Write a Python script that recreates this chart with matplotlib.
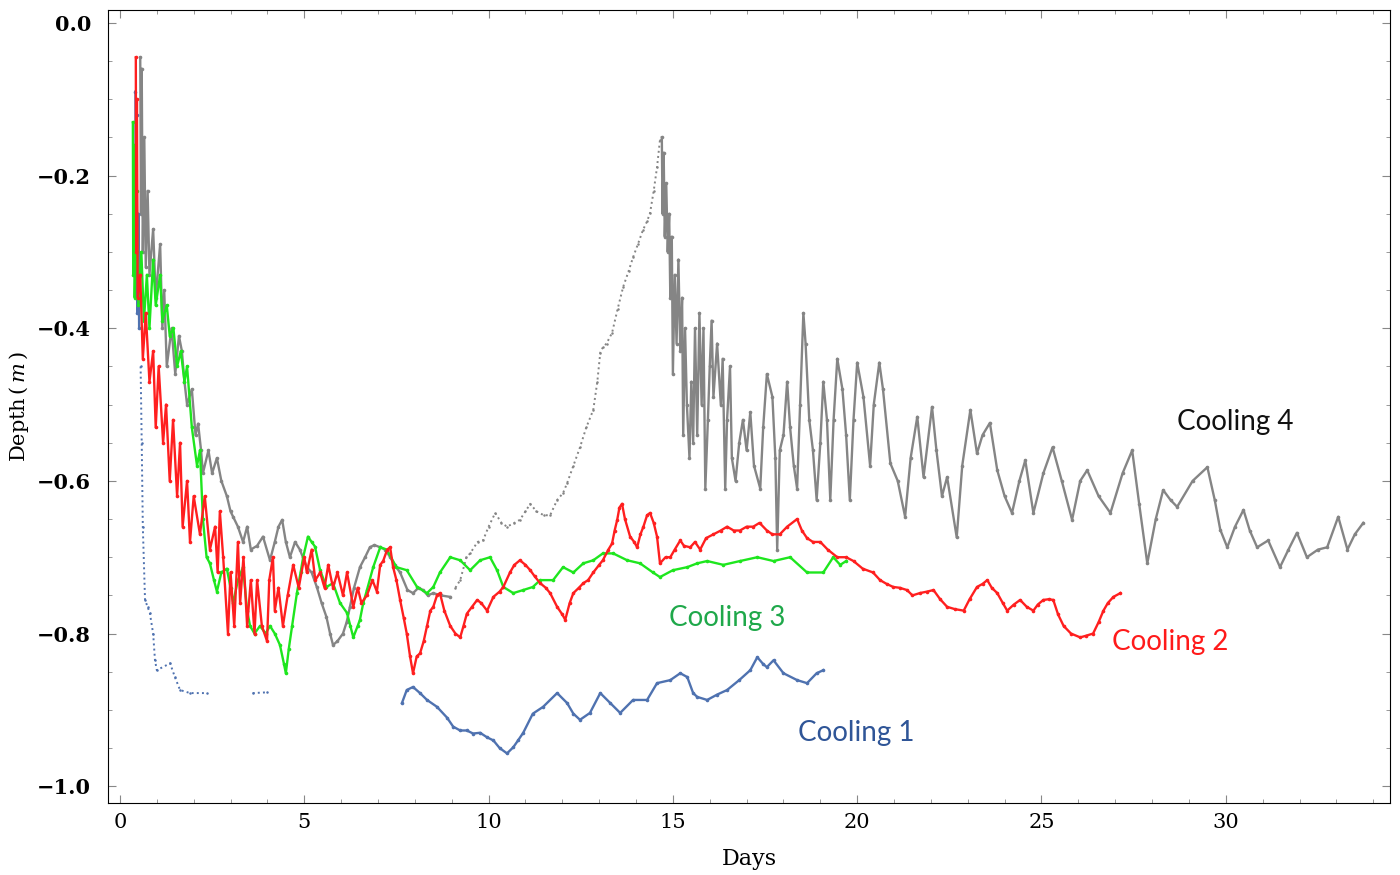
import numpy as np
import matplotlib
matplotlib.use("Agg")
import matplotlib.pyplot as plt
from matplotlib.ticker import MultipleLocator, FixedLocator

plt.rcParams['mathtext.fontset'] = 'dejavuserif'

# ---------------- data ----------------
c1_days = [0.42, 0.43, 0.45, 0.47, 0.50, 0.52, 0.56, 0.59, 0.62, 0.68, 0.75, 0.81, 0.90, 0.95, 1.00,
           1.36, 1.49, 1.63, 1.90, 2.35, np.nan, 3.60, 4.00, np.nan,
           7.65, 7.78, 7.95, 8.14, 8.33, 8.60, 8.87, 9.04, 9.23, 9.41, 9.58, 9.77, 9.96, 10.13, 10.30,
           10.50, 10.67, 10.80, 10.94, 11.20, 11.48, 11.86, 12.13, 12.30, 12.48, 12.75, 13.03, 13.30,
           13.57, 13.92, 14.30, 14.57, 14.93, 15.20, 15.39, 15.55, 15.66, 15.93, 16.20, 16.47, 16.80,
           17.10, 17.29, 17.45, 17.55, 17.73, 18.00, 18.37, 18.64, 18.90, 19.08]
c1_depth = [-0.09, -0.30, -0.12, -0.38, -0.25, -0.40, -0.45, -0.55, -0.66, -0.756, -0.765, -0.773, -0.80, -0.835, -0.848,
            -0.839, -0.857, -0.874, -0.878, -0.878, np.nan, -0.878, -0.877, np.nan,
            -0.891, -0.874, -0.870, -0.878, -0.887, -0.896, -0.910, -0.922, -0.927, -0.927, -0.931, -0.930, -0.936, -0.940, -0.950,
            -0.957, -0.949, -0.940, -0.930, -0.905, -0.896, -0.878, -0.891, -0.905, -0.913, -0.904, -0.878, -0.891,
            -0.904, -0.887, -0.887, -0.865, -0.861, -0.852, -0.857, -0.878, -0.883, -0.887, -0.880, -0.874, -0.861,
            -0.848, -0.831, -0.840, -0.844, -0.835, -0.852, -0.861, -0.865, -0.852, -0.848]

c2_days = [0.43, 0.44, 0.46, 0.48, 0.55, 0.62, 0.70, 0.80, 0.90, 0.97, 1.05, 1.17, 1.25, 1.35, 1.44, 1.55,
           1.63, 1.70, 1.82, 1.90, 2.00, 2.17, 2.30, 2.44, 2.58, 2.65, 2.71, 2.80, 2.93, 3.00, 3.10, 3.20,
           3.26, 3.35, 3.45, 3.55, 3.65, 3.72, 3.85, 3.99, 4.05, 4.15, 4.20, 4.30, 4.42, 4.55, 4.70, 4.85,
           5.00, 5.07, 5.20, 5.30, 5.43, 5.55, 5.65, 5.78, 5.90, 6.05, 6.16, 6.33, 6.45, 6.55, 6.70, 6.85,
           6.97, 7.06, 7.14, 7.25, 7.33, 7.41, 7.50, 7.60, 7.70, 7.78, 7.87, 7.95, 8.05, 8.14, 8.24, 8.33,
           8.42, 8.50, 8.60, 8.68, 8.80, 8.96, 9.10, 9.23, 9.32, 9.41, 9.55, 9.69, 9.80, 9.96, 10.13, 10.30,
           10.40, 10.58, 10.70, 10.85, 11.00, 11.13, 11.25, 11.40, 11.55, 11.67, 11.86, 12.00, 12.08, 12.20,
           12.30, 12.45, 12.57, 12.70, 12.84, 13.00, 13.10, 13.25, 13.35, 13.42, 13.49, 13.55, 13.62, 13.70,
           13.84, 13.95, 14.03, 14.12, 14.20, 14.30, 14.38, 14.48, 14.57, 14.65, 14.80, 14.93, 15.05, 15.20,
           15.30, 15.47, 15.60, 15.74, 15.90, 16.10, 16.30, 16.47, 16.65, 16.82, 17.00, 17.18, 17.35, 17.55,
           17.70, 17.90, 18.10, 18.37, 18.50, 18.64, 18.80, 19.00, 19.20, 19.46, 19.70, 19.90, 20.15, 20.43,
           20.62, 20.80, 20.98, 21.15, 21.35, 21.50, 21.70, 21.90, 22.07, 22.25, 22.44, 22.65, 22.89, 23.05,
           23.25, 23.40, 23.53, 23.65, 23.80, 23.95, 24.07, 24.25, 24.42, 24.60, 24.78, 24.90, 25.05, 25.20,
           25.32, 25.45, 25.60, 25.80, 26.05, 26.20, 26.40, 26.55, 26.68, 26.80, 26.95, 27.14]
c2_depth = [-0.045, -0.30, -0.10, -0.36, -0.33, -0.44, -0.38, -0.47, -0.43, -0.53, -0.45, -0.55, -0.50, -0.60, -0.52, -0.62,
            -0.55, -0.66, -0.60, -0.68, -0.62, -0.67, -0.62, -0.69, -0.66, -0.72, -0.64, -0.70, -0.80, -0.72, -0.79, -0.68,
            -0.76, -0.70, -0.79, -0.73, -0.80, -0.73, -0.79, -0.81, -0.73, -0.70, -0.77, -0.74, -0.79, -0.75, -0.71, -0.74,
            -0.70, -0.72, -0.69, -0.73, -0.72, -0.74, -0.71, -0.74, -0.72, -0.75, -0.72, -0.765, -0.74, -0.76, -0.75, -0.73,
            -0.745, -0.71, -0.705, -0.69, -0.687, -0.713, -0.73, -0.756, -0.78, -0.80, -0.83, -0.852, -0.83, -0.826, -0.81, -0.79,
            -0.77, -0.765, -0.75, -0.747, -0.77, -0.79, -0.80, -0.805, -0.79, -0.774, -0.765, -0.756, -0.76, -0.77, -0.752, -0.745,
            -0.739, -0.72, -0.71, -0.704, -0.71, -0.717, -0.725, -0.734, -0.74, -0.747, -0.765, -0.775, -0.782, -0.76,
            -0.747, -0.74, -0.734, -0.73, -0.72, -0.71, -0.704, -0.69, -0.682, -0.665, -0.651, -0.635, -0.63, -0.65,
            -0.673, -0.68, -0.687, -0.67, -0.66, -0.645, -0.642, -0.655, -0.673, -0.708, -0.70, -0.70, -0.69, -0.678,
            -0.685, -0.687, -0.68, -0.69, -0.675, -0.67, -0.665, -0.66, -0.665, -0.665, -0.66, -0.66, -0.655, -0.665,
            -0.67, -0.67, -0.66, -0.65, -0.665, -0.675, -0.68, -0.68, -0.69, -0.70, -0.70, -0.705, -0.715, -0.72,
            -0.73, -0.735, -0.739, -0.74, -0.743, -0.75, -0.747, -0.745, -0.743, -0.755, -0.765, -0.768, -0.77, -0.755,
            -0.739, -0.735, -0.73, -0.74, -0.747, -0.76, -0.77, -0.762, -0.756, -0.765, -0.77, -0.762, -0.756, -0.755,
            -0.756, -0.775, -0.79, -0.80, -0.805, -0.803, -0.80, -0.785, -0.77, -0.76, -0.752, -0.747]

c3_days = [0.35, 0.36, 0.38, 0.40, 0.45, 0.50, 0.58, 0.65, 0.73, 0.80, 0.90, 0.97, 1.09, 1.15, 1.27, 1.35,
           1.45, 1.55, 1.65, 1.75, 1.82, 1.95, 2.09, 2.17, 2.25, 2.35, 2.44, 2.55, 2.63, 2.75, 2.90, 3.00,
           3.07, 3.20, 3.34, 3.45, 3.53, 3.65, 3.80, 3.95, 4.07, 4.20, 4.34, 4.45, 4.50, 4.58, 4.67, 4.80,
           4.90, 4.97, 5.10, 5.20, 5.29, 5.43, 5.60, 5.78, 5.97, 6.16, 6.25, 6.33, 6.45, 6.51, 6.60, 6.70,
           6.87, 7.06, 7.24, 7.50, 7.78, 8.06, 8.33, 8.50, 8.68, 8.96, 9.23, 9.50, 9.77, 10.04, 10.23, 10.40,
           10.67, 10.94, 11.20, 11.40, 11.75, 12.02, 12.30, 12.57, 12.84, 13.10, 13.38, 13.76, 14.11, 14.46,
           14.65, 15.00, 15.39, 15.66, 15.93, 16.37, 16.82, 17.29, 17.73, 18.18, 18.64, 19.08, 19.35, 19.54, 19.70]
c3_depth = [-0.13, -0.33, -0.16, -0.36, -0.22, -0.37, -0.30, -0.39, -0.33, -0.40, -0.31, -0.37, -0.33, -0.39, -0.37, -0.41,
            -0.40, -0.45, -0.43, -0.47, -0.45, -0.53, -0.58, -0.56, -0.65, -0.70, -0.708, -0.73, -0.745, -0.72, -0.715, -0.74,
            -0.76, -0.73, -0.713, -0.77, -0.79, -0.80, -0.79, -0.80, -0.79, -0.80, -0.815, -0.84, -0.852, -0.82, -0.79, -0.747,
            -0.72, -0.70, -0.673, -0.68, -0.686, -0.717, -0.739, -0.734, -0.76, -0.773, -0.79, -0.805, -0.79, -0.782, -0.76, -0.743,
            -0.713, -0.687, -0.69, -0.713, -0.717, -0.739, -0.747, -0.739, -0.72, -0.70, -0.704, -0.717, -0.704, -0.70, -0.717, -0.739,
            -0.747, -0.743, -0.739, -0.73, -0.73, -0.713, -0.72, -0.708, -0.704, -0.695, -0.695, -0.704, -0.708, -0.72,
            -0.726, -0.717, -0.713, -0.708, -0.705, -0.71, -0.705, -0.70, -0.705, -0.70, -0.72, -0.72, -0.70, -0.71, -0.705]

c4_days = [0.55, 0.57, 0.59, 0.62, 0.66, 0.70, 0.75, 0.80, 0.90, 0.97, 1.09, 1.15, 1.20, 1.27, 1.40, 1.50,
           1.60, 1.68, 1.75, 1.82, 1.95, 2.05, 2.12, 2.20, 2.25, 2.40, 2.50, 2.63, 2.75, 2.90, 3.00, 3.07,
           3.20, 3.34, 3.45, 3.55, 3.72, 3.88, 4.07, 4.20, 4.30, 4.40, 4.50, 4.61, 4.75, 4.88, 5.07, 5.20,
           5.34, 5.47, 5.60, 5.70, 5.78, 5.90, 6.05, 6.15, 6.24, 6.35, 6.51, 6.65, 6.78, 6.90, 7.06, 7.20,
           7.33, 7.45, 7.60, 7.80, 7.95, 8.10, 8.22, 8.35, 8.50, 8.70, 8.96, 9.10, 9.23, 9.40, 9.50, 9.70,
           9.85, 10.00, 10.18, 10.35, 10.50, 10.70, 10.85, 11.00, 11.13, 11.30, 11.50, 11.67, 11.86, 12.02,
           12.13, 12.30, 12.48, 12.65, 12.84, 12.95, 13.03, 13.10, 13.20, 13.35, 13.50, 13.65, 13.80, 13.92,
           14.05, 14.19, 14.30, 14.38, 14.48, 14.57, 14.65,
           14.70, 14.72, 14.75, 14.78, 14.82, 14.86, 14.90, 14.93, 14.97, 15.00, 15.05, 15.10, 15.15, 15.20,
           15.25, 15.28, 15.33, 15.38, 15.45, 15.50, 15.55, 15.60, 15.66, 15.72, 15.78, 15.83, 15.88, 15.95,
           16.00, 16.05, 16.10, 16.20, 16.30, 16.35, 16.42, 16.47, 16.55, 16.60, 16.70, 16.80, 16.90, 17.00,
           17.10, 17.20, 17.37, 17.45, 17.55, 17.70, 17.78, 17.83, 17.90, 18.00, 18.10, 18.18, 18.28, 18.37,
           18.45, 18.54, 18.60, 18.70, 18.80, 18.90, 19.00, 19.08, 19.18, 19.27, 19.36, 19.46, 19.60, 19.70,
           19.80, 19.90, 20.00, 20.17, 20.35, 20.45, 20.60, 20.70, 20.90, 21.10, 21.30, 21.45, 21.63, 21.80,
           22.03, 22.15, 22.30, 22.44, 22.70, 22.85, 23.07, 23.25, 23.40, 23.60, 23.80, 24.00, 24.20, 24.40,
           24.56, 24.78, 25.05, 25.30, 25.55, 25.83, 26.05, 26.24, 26.55, 26.87, 27.20, 27.46, 27.65, 27.87,
           28.10, 28.30, 28.50, 28.68, 29.10, 29.50, 29.70, 29.85, 30.04, 30.25, 30.48, 30.65, 30.85, 31.15,
           31.47, 31.70, 31.93, 32.20, 32.50, 32.75, 33.05, 33.30, 33.50, 33.73]
c4_depth = [-0.045, -0.25, -0.06, -0.30, -0.15, -0.32, -0.22, -0.33, -0.27, -0.36, -0.29, -0.40, -0.35, -0.45, -0.40, -0.46,
            -0.41, -0.43, -0.47, -0.50, -0.48, -0.54, -0.525, -0.56, -0.59, -0.56, -0.59, -0.57, -0.60, -0.62, -0.64, -0.647,
            -0.66, -0.68, -0.66, -0.69, -0.685, -0.673, -0.704, -0.68, -0.66, -0.651, -0.68, -0.70, -0.68, -0.69, -0.713, -0.72,
            -0.739, -0.76, -0.778, -0.80, -0.815, -0.81, -0.80, -0.785, -0.765, -0.74, -0.713, -0.70, -0.687, -0.684, -0.687, -0.69,
            -0.70, -0.71, -0.72, -0.743, -0.747, -0.74, -0.743, -0.75, -0.747, -0.75, -0.752, -0.74, -0.73, -0.70, -0.695, -0.68,
            -0.678, -0.66, -0.642, -0.655, -0.66, -0.655, -0.651, -0.64, -0.63, -0.64, -0.645, -0.645, -0.625, -0.616,
            -0.603, -0.58, -0.556, -0.53, -0.507, -0.47, -0.432, -0.425, -0.42, -0.406, -0.375, -0.346, -0.325, -0.307,
            -0.29, -0.271, -0.26, -0.249, -0.22, -0.189, -0.153,
            -0.15, -0.25, -0.17, -0.28, -0.21, -0.30, -0.25, -0.36, -0.28, -0.46, -0.33, -0.42, -0.31, -0.43,
            -0.36, -0.54, -0.40, -0.50, -0.57, -0.47, -0.55, -0.40, -0.54, -0.38, -0.50, -0.40, -0.61, -0.52,
            -0.45, -0.39, -0.49, -0.42, -0.50, -0.44, -0.61, -0.52, -0.45, -0.57, -0.60, -0.55, -0.52, -0.56,
            -0.51, -0.58, -0.61, -0.53, -0.46, -0.49, -0.57, -0.69, -0.56, -0.54, -0.47, -0.53, -0.58, -0.61,
            -0.50, -0.38, -0.42, -0.52, -0.56, -0.625, -0.55, -0.47, -0.52, -0.625, -0.52, -0.44, -0.48, -0.54,
            -0.625, -0.52, -0.445, -0.49, -0.58, -0.50, -0.445, -0.48, -0.577, -0.60, -0.647, -0.57, -0.516, -0.595,
            -0.503, -0.56, -0.62, -0.595, -0.674, -0.58, -0.507, -0.564, -0.54, -0.524, -0.586, -0.62, -0.642, -0.60,
            -0.573, -0.642, -0.59, -0.556, -0.60, -0.651, -0.60, -0.586, -0.62, -0.642, -0.59, -0.56, -0.63, -0.708,
            -0.65, -0.612, -0.625, -0.634, -0.60, -0.582, -0.625, -0.664, -0.687, -0.66, -0.638, -0.665, -0.687, -0.678,
            -0.713, -0.69, -0.668, -0.70, -0.69, -0.687, -0.647, -0.69, -0.67, -0.655]

series_names = ["Cooling 1", "Cooling 2", "Cooling 3", "Cooling 4"]
label_days = [19.97, 28.5, 16.47, 30.26]
label_depth = [-0.93, -0.811, -0.779, -0.523]

x_ticks = [0, 5, 10, 15, 20, 25, 30]
y_ticks = [0.0, -0.2, -0.4, -0.6, -0.8, -1.0]

# ---------------- styling ----------------
col_blue = "#4f72b0"
col_red = "#ff1f1f"
col_green = "#1ee61e"
col_gray = "#858585"
label_colors = ["#2f5597", "#ff1a1a", "#1fa84a", "#111111"]

fig = plt.figure(figsize=(14, 8.75), dpi=100)
ax = fig.add_axes([0.077, 0.0823, 0.916, 0.9063])


def split(days, depth, lo, hi):
    d = np.asarray(days, float)
    v = np.asarray(depth, float)
    inside = (d >= lo) & (d <= hi)
    a = np.where(inside, v, np.nan)
    b = np.where(inside, np.nan, v)
    return d, a, b


def draw(days, depth, color, sparse=None, z=2):
    d = np.asarray(days, float)
    v = np.asarray(depth, float)
    if sparse is None:
        ax.plot(d, v, '-', color=color, lw=1.7, marker='o', ms=2.6, mew=0, zorder=z)
    else:
        _, sp, dense = split(d, v, *sparse)
        ax.plot(d, dense, '-', color=color, lw=1.7, marker='o', ms=2.6, mew=0, zorder=z)
        ax.plot(d, sp, ':', color=color, lw=1.4, marker='o', ms=1.8, mew=0, zorder=z)


draw(c4_days, c4_depth, col_gray, sparse=(9.0, 14.66), z=1)
draw(c1_days, c1_depth, col_blue, sparse=(0.55, 4.1), z=2)
draw(c3_days, c3_depth, col_green, z=3)
draw(c2_days, c2_depth, col_red, z=4)

for name, xd, yd, c in zip(series_names, label_days, label_depth, label_colors):
    ax.text(xd, yd, name, color=c, fontsize=20, family="Lato", ha="center", va="center")

ax.set_xlim(-0.33, 34.46)
ax.set_ylim(-1.022, 0.017)
ax.xaxis.set_major_locator(FixedLocator(x_ticks))
ax.xaxis.set_minor_locator(MultipleLocator(1))
ax.yaxis.set_major_locator(FixedLocator(y_ticks))
ax.yaxis.set_minor_locator(MultipleLocator(0.05))
ax.set_xticklabels([str(t) for t in x_ticks])
ax.set_yticklabels([f"{t:.1f}".replace("-", "\u2212") for t in y_ticks])
ax.tick_params(which="both", direction="in", top=True, right=True, color="#888888")
ax.tick_params(which="major", length=6, width=0.8)
ax.tick_params(which="minor", length=3, width=0.6)
ax.tick_params(axis="y", labelsize=15, pad=12)
ax.tick_params(axis="x", labelsize=15, pad=7)
for lab in ax.get_xticklabels() + ax.get_yticklabels():
    lab.set_family("DejaVu Serif")
    lab.set_fontweight("bold")
for lab in ax.get_xticklabels():
    lab.set_fontweight("normal")

ax.set_xlabel("Days", family="DejaVu Serif", fontsize=16, labelpad=12)
ax.set_ylabel(r"Depth$\,(\,\mathit{m}\,)$", family="DejaVu Serif", fontsize=15)
ax.yaxis.set_label_coords(-0.060, 0.5)

fig.savefig("out.png", dpi=100, facecolor="white")
